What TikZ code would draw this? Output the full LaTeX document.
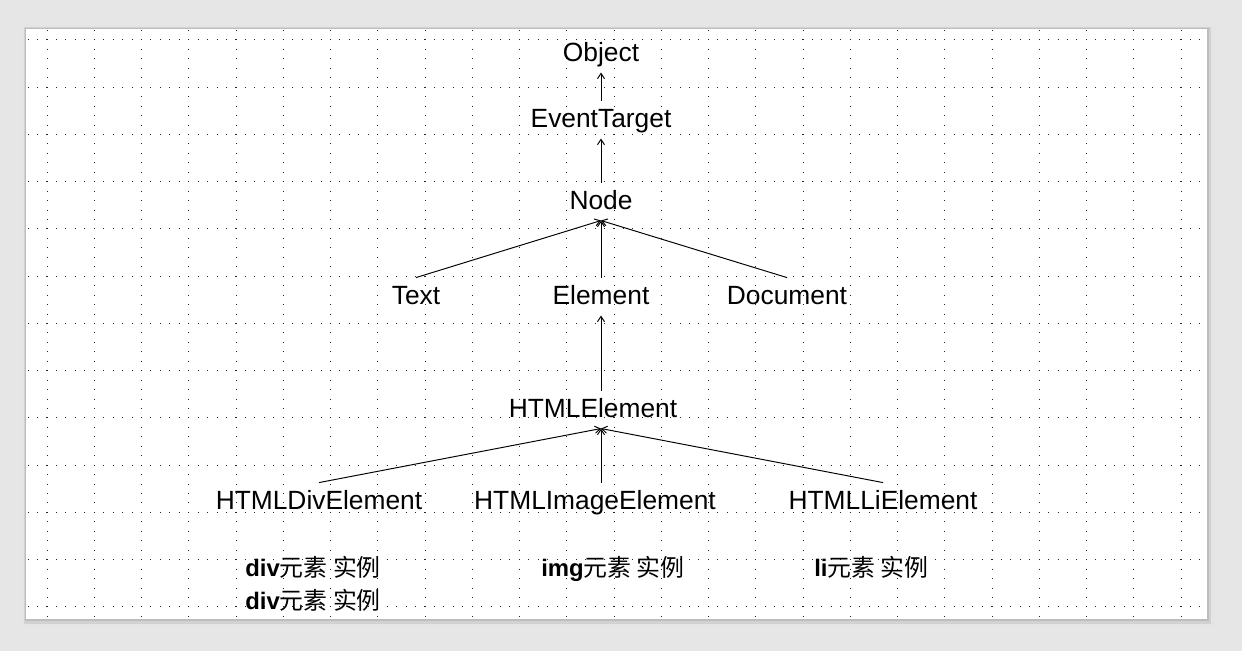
\documentclass[tikz,border=0pt]{standalone}
\usepackage{fontspec}
\setmainfont{Liberation Sans}
\newfontfamily\cjk{Noto Sans CJK SC}
\usetikzlibrary{arrows.meta}
\definecolor{pagegray}{HTML}{E6E6E6}

\begin{document}
\begin{tikzpicture}[x=0.02cm,y=-0.02cm,
  cls/.style={inner sep=0pt,outer sep=6pt,text height=9.6pt,text depth=0pt,anchor=base,font=\fontsize{15}{18}\selectfont},
  inst/.style={inner sep=0pt,anchor=base west,font=\fontsize{13.6}{16}\selectfont},
  link/.style={-{Straight Barb[length=3pt,width=4pt]},line width=0.55pt},
  dots/.style={line width=0.02cm,dash pattern=on 0.02cm off 0.169cm,black!85}]
\useasboundingbox (0,0) rectangle (1242,651);
%Canvas
\fill[pagegray] (0,0) rectangle (1242,651);
\fill[black!10] (22,25) rectangle (1215,628);
\fill[black!18] (24,27) rectangle (1211,624);
\fill[black!26] (25,28) rectangle (1209,621);
\fill[white] (26,29) rectangle (1207,619);
%Grid
\foreach \i in {0,...,24}
  \draw[dots] (47+47.25*\i,30.05) -- (47+47.25*\i,619);
\foreach \j in {0,...,12}
  \draw[dots] (27.6,40+47.25*\j) -- (1206,40+47.25*\j);
%Class Nodes
\node[cls] (object) at (601,62) {Object};
\node[cls] (eventtarget) at (601,128) {EventTarget};
\node[cls] (nodebase) at (601,210) {Node};
\node[cls] (textnode) at (416,305) {Text};
\node[cls] (element) at (601,305) {Element};
\node[cls] (document) at (787,305) {Document};
\node[cls] (htmlelement) at (593,418) {HTMLElement};
\node[cls] (divelement) at (319,510) {HTMLDivElement};
\node[cls] (imageelement) at (595,510) {HTMLImageElement};
\node[cls] (lielement) at (883,510) {HTMLLiElement};
%Instance Labels
\node[inst] (divinsta) at (245,577) {\textbf{div}\cjk 元素 实例};
\node[inst] (divinstb) at (245,610) {\textbf{div}\cjk 元素 实例};
\node[inst] (imginst) at (541,577) {\textbf{img}\cjk 元素 实例};
\node[inst] (liinst) at (814,577) {\textbf{li}\cjk 元素 实例};
%Connections
\draw[link] (eventtarget.north) -- (object.south);
\draw[link] (nodebase.north) -- (eventtarget.south);
\draw[link] (textnode.north) -- (nodebase.south);
\draw[link] (element.north) -- (nodebase.south);
\draw[link] (document.north) -- (nodebase.south);
\draw[link] (htmlelement.north -| element.south) -- (element.south);
\draw[link] (divelement.north) -- (htmlelement.south -| element.south);
\draw[link] (imageelement.north -| element.south) -- (htmlelement.south -| element.south);
\draw[link] (lielement.north) -- (htmlelement.south -| element.south);

\end{tikzpicture}
\end{document}
